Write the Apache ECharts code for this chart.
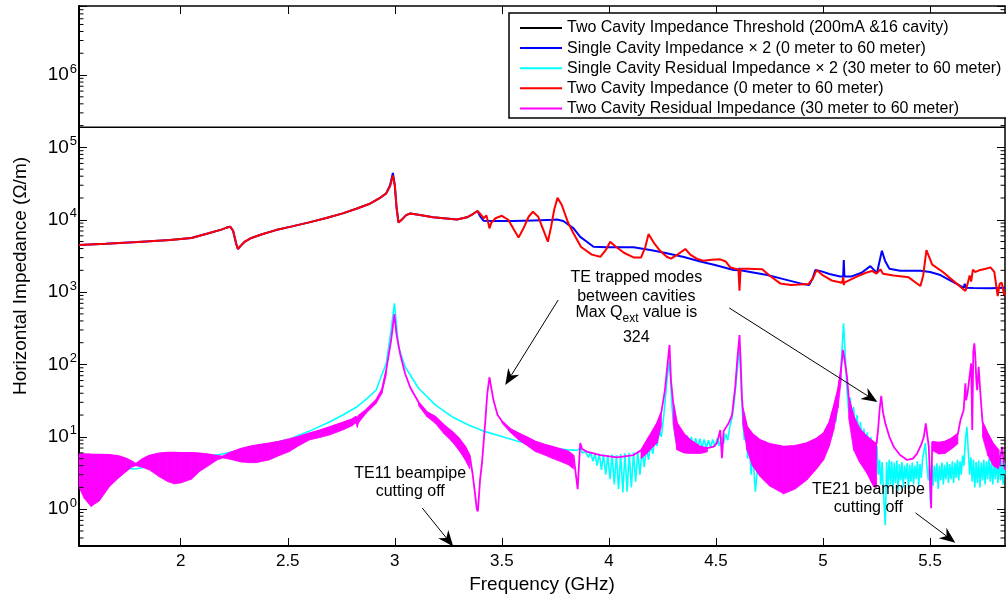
<!DOCTYPE html>
<html><head><meta charset="utf-8">
<script src="https://cdn.jsdelivr.net/npm/echarts@6/dist/echarts.min.js"></script>
<style>html,body{margin:0;padding:0;background:#fff}#c{width:1006px;height:602px}</style>
</head><body><div id="c"></div><script>
const FONT = '"Liberation Sans", Arial, Helvetica, sans-serif';
const X_MIN = 1.525, X_MAX = 5.85, Y_MIN = 0.31, Y_MAX = 9e6;
const xTicks = [2, 2.5, 3, 3.5, 4, 4.5, 5, 5.5];
const yMinorTicks = [0.4,0.5,0.6,0.7,0.8,0.9,2,3,4,5,6,7,8,9,20,30,40,50,60,70,80,90,200,300,400,500,600,700,800,900,
  2000,3000,4000,5000,6000,7000,8000,9000,2e4,3e4,4e4,5e4,6e4,7e4,8e4,9e4,2e5,3e5,4e5,5e5,6e5,7e5,8e5,9e5,2e6,3e6,4e6,5e6,6e6,7e6,8e6];

const names = [
  'Two Cavity Impedance Threshold (200mA &16 cavity)',
  'Single Cavity Impedance \u00d7 2 (0 meter to 60 meter)',
  'Single Cavity Residual Impedance \u00d7 2 (30 meter to 60 meter)',
  'Two Cavity Impedance (0 meter to 60 meter)',
  'Two Cavity Residual Impedance (30 meter to 60 meter)'
];

const threshold = [[1.525, 1.9e5], [5.85, 1.9e5]];

const singleImp = [[1.525,4470],[1.65,4650],[1.8,4920],[1.95,5250],[2.05,5600],[2.13,6500],[2.19,7300],[2.215,7800],[2.232,8000],[2.245,7000],[2.258,4800],[2.267,3950],[2.28,4350],[2.30,5000],[2.33,5600],[2.38,6300],[2.445,7200],[2.52,8100],[2.60,9200],[2.68,10600],[2.757,12250],[2.82,14200],[2.88,16500],[2.927,19700],[2.96,23200],[2.978,30000],[2.991,44500],[3.0,30000],[3.008,15000],[3.017,9200],[3.035,10200],[3.053,11600],[3.072,12200],[3.11,11700],[3.179,10800],[3.29,10100],[3.337,10800],[3.365,12000],[3.386,13200],[3.40,11000],[3.414,9700],[3.45,9600],[3.55,9600],[3.65,9800],[3.74,10000],[3.757,10100],[3.787,9600],[3.835,7600],[3.866,5800],[3.897,4970],[3.928,4240],[3.99,4160],[4.115,4160],[4.2,3800],[4.27,3440],[4.35,3050],[4.427,2650],[4.5,2350],[4.583,2020],[4.605,2000],[4.61,2140],[4.615,2000],[4.66,1900],[4.74,1720],[4.82,1500],[4.894,1320],[4.935,1250],[4.95,1500],[4.964,2020],[4.99,1950],[5.03,1780],[5.08,1640],[5.094,1640],[5.097,2770],[5.1,1640],[5.13,1640],[5.18,1850],[5.221,2290],[5.24,2000],[5.252,1820],[5.262,2500],[5.275,3730],[5.29,2700],[5.31,2100],[5.36,1980],[5.455,1980],[5.5,1900],[5.548,1720],[5.6,1420],[5.657,1150],[5.662,1300],[5.667,1150],[5.7,1140],[5.78,1130],[5.85,1150]];

const twoImp = [[1.525,4470],[1.65,4650],[1.8,4920],[1.95,5250],[2.05,5600],[2.13,6500],[2.19,7300],[2.215,7800],[2.232,8000],[2.245,7000],[2.258,4800],[2.267,3950],[2.28,4350],[2.30,5000],[2.33,5600],[2.38,6300],[2.445,7200],[2.52,8100],[2.60,9200],[2.68,10600],[2.757,12250],[2.82,14200],[2.88,16500],[2.927,19700],[2.96,23200],[2.978,29000],[2.991,41000],[3.0,30000],[3.008,15000],[3.017,9200],[3.035,10200],[3.053,11600],[3.072,12200],[3.11,11700],[3.179,10800],[3.29,10100],[3.337,10800],[3.365,12000],[3.386,13200],[3.40,12000],[3.415,10500],[3.422,10500],[3.428,11500],[3.435,9500],[3.442,7600],[3.45,9000],[3.47,10500],[3.50,11350],[3.53,10000],[3.56,7000],[3.578,5700],[3.60,7500],[3.625,11000],[3.645,12900],[3.67,11000],[3.70,6500],[3.715,4970],[3.73,8000],[3.745,14000],[3.76,20100],[3.78,16000],[3.81,9000],[3.835,6460],[3.87,4200],[3.92,3300],[3.96,3080],[3.985,3800],[4.006,4970],[4.03,4300],[4.07,3500],[4.115,3020],[4.15,3000],[4.17,4200],[4.185,6330],[4.21,4800],[4.24,3700],[4.27,3080],[4.29,2900],[4.32,3300],[4.357,3940],[4.38,3300],[4.41,2900],[4.44,2720],[4.48,2800],[4.52,2840],[4.545,2650],[4.567,2200],[4.59,2100],[4.605,2050],[4.61,1050],[4.615,2100],[4.65,2100],[4.716,2065],[4.75,1700],[4.8,1320],[4.85,1250],[4.933,1290],[4.955,1600],[4.97,2020],[5.0,1700],[5.04,1450],[5.089,1350],[5.095,1600],[5.097,1250],[5.1,1350],[5.15,1600],[5.2,1850],[5.229,1960],[5.25,1800],[5.268,2065],[5.28,1800],[5.33,1700],[5.4,1600],[5.455,1215],[5.468,1700],[5.483,3800],[5.51,2400],[5.56,1900],[5.6,1500],[5.64,1200],[5.665,1035],[5.675,1300],[5.685,1700],[5.692,1400],[5.70,2050],[5.71,1900],[5.73,2000],[5.76,2100],[5.782,2200],[5.80,1900],[5.816,884],[5.825,1300],[5.835,1350],[5.847,884],[5.85,1000]];

const singleResidual = [[1.525,4.0],[1.6,3.8],[1.7,3.7],[1.79,3.6],[1.85,3.9],[1.97,4.6],[2.1,5.3],[2.196,5.8],[2.3,6.8],[2.414,8.0],[2.508,9.3],[2.601,12.0],[2.695,16],[2.757,20],[2.82,25.6],[2.866,33],[2.913,44.4],[2.96,104],[2.983,300],[2.998,700],[3.008,350],[3.017,176],[3.048,93],[3.111,47],[3.189,27.6],[3.267,19],[3.344,14.6],[3.422,11.8],[3.50,10.1],[3.578,8.6],[3.656,7.7],[3.734,6.95],[3.811,6.6],[3.85,6.5],[3.866,7.0],[3.875,6.0],[3.89,6.25],
[3.905,5.2],[3.915,6.1],[3.925,4.6],[3.935,5.9],[3.945,4.0],[3.955,5.8],[3.965,3.5],[3.975,5.7],[3.985,3.0],[3.995,5.6],[4.005,2.6],[4.015,5.7],[4.025,2.2],[4.035,5.6],[4.045,1.9],[4.055,5.8],[4.065,1.7],[4.075,5.9],[4.085,1.75],[4.095,6.0],[4.105,2.0],[4.115,6.1],[4.125,2.4],[4.135,6.3],[4.145,3.0],[4.155,6.6],[4.165,3.8],[4.175,7.2],[4.185,4.8],[4.195,8.0],[4.205,5.8],[4.215,9.5],[4.225,7.5],[4.235,12],[4.245,10],[4.258,22],[4.27,55],[4.28,110],[4.287,70],[4.295,25],[4.305,13],[4.315,8.5],[4.325,12],[4.335,7.5],[4.345,11],[4.355,7.3],[4.365,10.5],[4.375,7.0],[4.385,10],[4.395,7.2],[4.405,9.6],[4.415,7.0],[4.425,9.4],[4.435,7.1],[4.445,9.2],[4.455,7.0],[4.465,9.0],[4.475,7.2],[4.485,9.2],[4.495,7.3],[4.505,9.5],[4.515,7.5],[4.525,10],[4.535,8],[4.545,11],[4.555,9],[4.565,14],[4.575,18],[4.585,30],[4.595,60],[4.605,130],[4.61,160],[4.617,60],[4.624,20],[4.632,9],[4.64,14],[4.648,5],[4.656,9],[4.664,3],[4.672,6],[4.684,1.75],[4.695,4],[4.71,3],[4.75,3],[4.8,2.5],[4.85,2.5],[4.9,3.0],[4.95,4],[4.975,5.5],[4.99,8],[5.0,6],[5.01,11],[5.02,7],[5.03,15],[5.04,10],[5.05,24],[5.06,16],[5.07,40],[5.08,60],[5.088,150],[5.096,370],[5.103,150],[5.112,44.5],[5.12,22],[5.127,35],[5.135,15],[5.143,26],[5.151,12],[5.159,20],[5.167,10],[5.175,16],[5.183,8.5],[5.191,13],[5.199,7.5],[5.207,11.5],[5.215,6.5],[5.223,10],[5.231,5.5],[5.239,8.5],[5.247,5],[5.252,7.5],
[5.258,3.0],[5.264,4.8],[5.270,2.2],[5.276,4.5],[5.282,1.8],[5.291,0.6],[5.297,4.5],[5.303,2.0],[5.309,4.8],[5.315,2.2],[5.321,4.6],[5.327,1.9],[5.333,4.4],[5.339,2.3],[5.345,4.7],[5.351,1.8],[5.357,4.2],[5.363,2.5],[5.369,4.5],[5.375,2.0],[5.381,4.0],[5.387,2.6],[5.393,4.3],[5.399,1.9],[5.405,4.1],[5.411,2.4],[5.417,4.4],[5.423,2.2],[5.429,4.0],[5.435,2.6],[5.441,4.6],[5.447,2.1],[5.453,4.2],[5.459,2.7],[5.465,5.0],[5.472,6.5],[5.478,8.2],[5.485,4.0],[5.492,2.5],[5.497,4.0],[5.502,1.2],[5.508,4.2],[5.514,2.1],[5.520,4.0],[5.526,2.4],[5.532,4.3],[5.538,1.9],[5.544,4.0],[5.550,2.5],[5.556,4.4],[5.562,2.2],[5.568,4.1],[5.574,2.6],[5.580,4.5],[5.586,2.3],[5.592,4.2],[5.598,2.6],[5.604,4.6],[5.610,2.3],[5.616,4.4],[5.622,2.7],[5.628,4.8],[5.634,2.5],[5.640,4.6],[5.646,3.0],[5.652,5.5],[5.658,4.0],[5.665,9],[5.672,13.8],[5.679,6],[5.685,3.0],[5.691,5.2],[5.697,2.4],[5.703,4.8],[5.709,2.0],[5.715,4.5],[5.721,2.3],[5.727,4.7],[5.733,2.0],[5.739,4.4],[5.745,2.5],[5.751,4.8],[5.757,2.2],[5.763,4.6],[5.769,2.6],[5.775,5.0],[5.781,2.4],[5.787,4.7],[5.793,2.2],[5.799,4.4],[5.805,2.6],[5.811,4.8],[5.817,2.3],[5.823,4.5],[5.829,2.5],[5.835,4.7],[5.841,2.2],[5.847,4.4],[5.85,3.0]];

const twoResidual = [[1.525,5.75],[1.55,5.75],[1.581,5.7],[1.62,5.68],[1.667,5.62],[1.71,5.4],[1.745,5.0],[1.77,4.6],[1.791,4.22],[1.82,4.9],[1.854,5.5],[1.9,5.9],[1.94,6.05],[1.97,6.05],[2.0,6.0],[2.05,6.0],[2.087,5.9],[2.13,5.7],[2.17,5.45],[2.196,5.33],[2.23,6.0],[2.28,6.8],[2.321,7.3],[2.352,7.6],[2.414,8.15],[2.46,8.6],[2.508,9.27],[2.55,10.0],[2.601,11.2],[2.65,12.3],[2.695,13.6],[2.757,15.7],[2.80,17.5],[2.819,19],[2.825,16],[2.83,19.5],[2.866,23.5],[2.913,32.3],[2.94,45],[2.96,84],[2.983,218],[2.998,498],[3.008,260],[3.025,140],[3.048,75],[3.072,48],[3.111,30],[3.15,22],[3.189,19],[3.23,14.5],[3.267,11.8],[3.30,9.5],[3.329,7.3],[3.35,5.5],[3.363,3.14],[3.375,1.6],[3.383,1.0],[3.388,0.93],[3.398,2.5],[3.407,4.3],[3.422,15.4],[3.432,40],[3.442,66.6],[3.452,45],[3.461,32],[3.48,20],[3.50,16.5],[3.54,12.8],[3.578,11.2],[3.62,9.8],[3.656,8.6],[3.70,7.8],[3.734,7.3],[3.77,6.8],[3.811,6.25],[3.835,5.5],[3.843,3.5],[3.854,1.89],[3.86,4.0],[3.866,8.2],[3.875,6.8],[3.897,6.25],[3.96,5.6],[4.038,5.2],[4.115,5.6],[4.15,6.5],[4.178,9],[4.20,11.5],[4.225,15.4],[4.245,22],[4.262,45],[4.275,110],[4.283,186],[4.29,60],[4.30,30],[4.318,15.4],[4.35,11],[4.38,9],[4.427,7.3],[4.46,7.0],[4.489,7.3],[4.505,8.2],[4.52,12.4],[4.528,5.06],[4.536,12],[4.559,15.4],[4.575,20],[4.59,49],[4.60,120],[4.61,255],[4.615,120],[4.621,36],[4.625,25],[4.645,13.8],[4.67,11],[4.707,9],[4.75,8],[4.816,7.3],[4.87,7.5],[4.925,8.2],[4.97,9.5],[5.003,11.2],[5.03,16],[5.05,26],[5.07,45],[5.085,90],[5.093,159],[5.10,120],[5.112,68],[5.12,35],[5.143,19],[5.17,13],[5.205,10],[5.236,8.5],[5.25,8.0],[5.257,12.4],[5.265,25],[5.272,36.7],[5.28,22],[5.291,15.4],[5.31,10],[5.33,7.3],[5.36,5.6],[5.393,4.8],[5.42,5.0],[5.44,5.9],[5.46,8],[5.471,10],[5.48,15.4],[5.488,10],[5.494,7.3],[5.50,2.5],[5.505,1.03],[5.51,8.5],[5.54,8.3],[5.57,8.6],[5.60,9.5],[5.63,11],[5.642,17],[5.657,23.5],[5.662,40],[5.665,55],[5.668,32],[5.675,40],[5.685,70],[5.692,104],[5.697,12.4],[5.702,150],[5.707,196],[5.712,120],[5.716,60],[5.72,44],[5.727,93],[5.735,40],[5.745,16],[5.77,11],[5.795,8],[5.82,6.5],[5.825,3.9],[5.832,6],[5.837,7.3],[5.845,4],[5.85,3.5]];

// oscillation envelopes of the two-cavity residual curve: [x, upper, lower]
const bandA = [[1.525,5.75,2.0],[1.55,5.75,1.4],[1.581,5.7,1.09],[1.62,5.68,1.3],[1.667,5.62,2.05],[1.71,5.4,2.7],[1.745,5.0,3.3],[1.77,4.6,3.8],[1.791,4.22,4.0],[1.82,4.9,3.8],[1.854,5.5,3.49],[1.9,5.9,2.8],[1.94,6.05,2.4],[1.97,6.05,2.24],[2.0,6.0,2.3],[2.05,6.0,2.6],[2.087,5.9,3.3],[2.13,5.7,4.0],[2.17,5.45,4.8],[2.196,5.33,5.1],[2.23,6.0,4.9],[2.28,6.8,4.5],[2.321,7.3,4.4],[2.352,7.6,4.4],[2.414,8.15,4.8],[2.46,8.6,5.5],[2.508,9.27,6.25],[2.55,10.0,7.5],[2.601,11.2,9.06],[2.65,12.3,9.8],[2.695,13.6,10.6],[2.757,15.7,12.4],[2.80,17.5,14.2],[2.819,19,15.7],[2.825,16,13.5],[2.83,19.5,15.5],[2.866,23.5,21.2],[2.913,32.3,29],[2.94,45,40],[2.96,84,71.6]];
const bandB = [[3.111,30,27],[3.15,22,19],[3.189,19,15.4],[3.23,14.5,11],[3.267,11.8,8.6],[3.30,9.5,6.5],[3.329,7.3,4.8],[3.35,5.5,3.6]];
const bandC = [[3.50,16.5,15.5],[3.54,12.8,11.5],[3.578,11.2,9.06],[3.62,9.8,7.5],[3.656,8.6,6.25],[3.70,7.8,5.6],[3.734,7.3,5.06],[3.77,6.8,4.6],[3.811,6.25,4.1],[3.835,5.5,3.6]];
const bandD = [[4.15,6.5,5.0],[4.178,9,5.9],[4.20,11.5,7.0],[4.225,15.4,8.2],[4.245,22,14]];
const bandE = [[4.30,30,15],[4.318,15.4,6.6],[4.35,11,6.0],[4.38,9,5.9],[4.427,7.3,5.9],[4.46,7.0,6.2]];
const bandF = [[4.625,25,15],[4.645,13.8,6.6],[4.67,11,4.0],[4.707,9,2.8],[4.75,8,2.1],[4.816,7.3,1.63],[4.87,7.5,1.9],[4.925,8.2,2.54],[4.97,9.5,3.6],[5.003,11.2,4.8],[5.03,16,7.5],[5.05,26,12.4],[5.07,45,25],[5.085,90,60]];
const bandG = [[5.12,35,18],[5.143,19,6.6],[5.17,13,4.5],[5.205,10,3.14],[5.236,8.5,2.05],[5.25,8.0,2.0]];
const bandI = [[5.51,8.5,6.5],[5.54,8.3,5.8],[5.57,8.6,5.9],[5.60,9.5,6.8],[5.63,11,8]];
const bandJ = [[5.745,16,10],[5.77,11,5.5],[5.795,8,4.0],[5.82,6.5,3.6]];

// annotations [x GHz, value, text]
const notes = [
  [4.128, 1567, 'TE trapped modes'],
  [4.128, 855, 'between cavities'],
  [4.128, 514, 'Max Q{sub|ext} value is'],
  [4.128, 232, '324'],
  [3.072, 3.07, 'TE11 beampipe'],
  [3.072, 1.73, 'cutting off'],
  [5.212, 1.85, 'TE21 beampipe'],
  [5.212, 1.04, 'cutting off']
];
// arrows [x0, y0, x1(head), y1(head)]
const arrows = [
  [3.763, 778, 3.516, 52.2],
  [4.562, 604, 5.254, 30.3],
  [3.128, 1.04, 3.273, 0.305],
  [5.432, 0.889, 5.618, 0.345]
];

const BLUE = '#0000ff', RED = '#ff0000', CYAN = '#00ffff', MAG = '#ff00ff';

function bandSeries(pts) {
  return {
    type: 'custom', coordinateSystem: 'cartesian2d', silent: true, z: 4,
    data: pts.map(p => [p[0], p[1], p[2]]),
    encode: { x: 0, y: [1, 2] },
    renderItem: function (params, api) {
      const i = params.dataIndex;
      if (i >= pts.length - 1) return null;
      const a = pts[i], b = pts[i + 1];
      const pts4 = [api.coord([a[0], a[1]]), api.coord([b[0], b[1]]), api.coord([b[0], b[2]]), api.coord([a[0], a[2]])];
      return { type: 'polygon', z2: 10, shape: { points: pts4 }, style: { fill: MAG, stroke: MAG, lineWidth: 0.8 } };
    }
  };
}

const chart = echarts.init(document.getElementById('c'), null, { renderer: 'canvas' });
const lineSeries = (name, data, color, w, z) => ({
  name, type: 'line', data, symbol: 'none', showSymbol: false, smooth: false, z,
  lineStyle: { color, width: w }, itemStyle: { color }, animation: false
});

const option = {
  animation: false,
  backgroundColor: '#fff',
  textStyle: { fontFamily: FONT },
  grid: { left: 79, right: 1, top: 6, bottom: 56 },
  legend: {
    data: names, orient: 'vertical', left: 509, top: 13,
    padding: [7, 16, 2, 10], itemGap: 4.1, itemWidth: 42, itemHeight: 14,
    itemStyle: { opacity: 0 },
    backgroundColor: 'transparent', borderWidth: 0,
    textStyle: { fontSize: 16, fontFamily: FONT, color: '#000', lineHeight: 16 },
    selectedMode: false, z: 20
  },
  xAxis: [{
    type: 'value', min: X_MIN, max: X_MAX, position: 'bottom',
    name: 'Frequency (GHz)', nameLocation: 'middle', nameGap: 27,
    nameTextStyle: { fontSize: 19, color: '#000', fontFamily: FONT },
    axisLine: { show: true, onZero: false, lineStyle: { color: '#000', width: 2 } },
    axisTick: { show: true, inside: true, length: 8, customValues: xTicks, lineStyle: { color: '#000', width: 1 } },
    axisLabel: { customValues: xTicks, fontSize: 17, color: '#000', margin: 7, fontFamily: FONT },
    splitLine: { show: false }
  }, {
    type: 'value', min: X_MIN, max: X_MAX, position: 'top',
    axisLine: { show: true, onZero: false, lineStyle: { color: '#000', width: 1.5 } },
    axisTick: { show: true, inside: true, length: 8, customValues: xTicks, lineStyle: { color: '#000', width: 1 } },
    axisLabel: { show: false }, splitLine: { show: false }
  }],
  yAxis: [{
    type: 'log', logBase: 10, min: Y_MIN, max: Y_MAX, position: 'left',
    name: 'Horizontal Impedance (\u03a9/m)', nameLocation: 'middle', nameGap: 49, nameRotate: 90,
    nameTextStyle: { fontSize: 19, color: '#000', fontFamily: FONT },
    axisLine: { show: true, onZero: false, lineStyle: { color: '#000', width: 2 } },
    axisTick: { show: true, inside: true, length: 8, lineStyle: { color: '#000', width: 1 } },
    axisLabel: {
      margin: 2, color: '#000', fontFamily: FONT,
      formatter: function (v) {
        const l = Math.log10(v), e = Math.round(l);
        if (Math.abs(l - e) > 1e-6) return '';
        return '{b|10}{s|' + e + '}';
      },
      rich: { b: { fontSize: 19, fontFamily: FONT, color: '#000', padding: [0, 1, 0, 0] }, s: { fontSize: 13, fontFamily: FONT, color: '#000', padding: [0, 0, 12, 0] } }
    },
    splitLine: { show: false }
  }, {
    type: 'log', logBase: 10, min: Y_MIN, max: Y_MAX, position: 'right',
    axisLine: { show: true, onZero: false, lineStyle: { color: '#000', width: 1.5 } },
    axisTick: { show: true, inside: true, length: 8, lineStyle: { color: '#000', width: 1 } },
    axisLabel: { show: false }, splitLine: { show: false }
  }],
  series: [
    lineSeries(names[0], threshold, '#000', 1.5, 2),
    lineSeries(names[1], singleImp, BLUE, 2, 2),
    lineSeries(names[2], singleResidual, CYAN, 1.6, 1),
    lineSeries(names[3], twoImp, RED, 2, 3),
    lineSeries(names[4], twoResidual, MAG, 1.8, 3),
    bandSeries(bandA), bandSeries(bandB), bandSeries(bandC), bandSeries(bandD), bandSeries(bandE),
    bandSeries(bandF), bandSeries(bandG), bandSeries(bandI), bandSeries(bandJ),
    {
      type: 'custom', coordinateSystem: 'cartesian2d', silent: true, z: 5,
      data: yMinorTicks.map(v => [X_MIN, v]),
      renderItem: function (params, api) {
        const v = api.value(1);
        const L = api.coord([X_MIN, v]), R = api.coord([X_MAX, v]);
        return { type: 'group', children: [
          { type: 'line', shape: { x1: L[0], y1: L[1], x2: L[0] + 4.5, y2: L[1] }, style: { stroke: '#000', lineWidth: 1 } },
          { type: 'line', shape: { x1: R[0] - 4.5, y1: R[1], x2: R[0], y2: R[1] }, style: { stroke: '#000', lineWidth: 1 } }
        ] };
      }
    }
  ]
};
chart.setOption(option);

function toPx(x, y) { return chart.convertToPixel({ xAxisIndex: 0, yAxisIndex: 0 }, [x, y]); }
const graphics = [];
// legend frame (extends past the right edge as in the source figure)
graphics.push({ type: 'rect', z: 15, shape: { x: 509, y: 13, width: 530, height: 105 }, style: { fill: '#fff', stroke: '#000', lineWidth: 1.5 } });
notes.forEach(n => {
  const p = toPx(n[0], n[1]);
  graphics.push({
    type: 'text', x: p[0], y: p[1], z: 30,
    style: { text: n[2], align: 'center', verticalAlign: 'middle', fontSize: 16, fontFamily: FONT, fill: '#000',
      rich: { sub: { fontSize: 12, fontFamily: FONT, fill: '#000', padding: [11, 0, 0, 0] } } }
  });
});
arrows.forEach(a => {
  const p0 = toPx(a[0], a[1]), p1 = toPx(a[2], a[3]);
  const dx = p1[0] - p0[0], dy = p1[1] - p0[1], len = Math.hypot(dx, dy);
  const ux = dx / len, uy = dy / len, nx = -uy, ny = ux;
  const L = 16, W = 6.5, N = 5;
  const base = [p1[0] - ux * L, p1[1] - uy * L];
  const notch = [p1[0] - ux * (L - N), p1[1] - uy * (L - N)];
  graphics.push({ type: 'line', z: 30, shape: { x1: p0[0], y1: p0[1], x2: notch[0], y2: notch[1] }, style: { stroke: '#000', lineWidth: 1 } });
  graphics.push({ type: 'polygon', z: 30, shape: { points: [p1, [base[0] + nx * W, base[1] + ny * W], notch, [base[0] - nx * W, base[1] - ny * W]] }, style: { fill: '#000' } });
});
chart.setOption({ graphic: graphics });
</script></body></html>
